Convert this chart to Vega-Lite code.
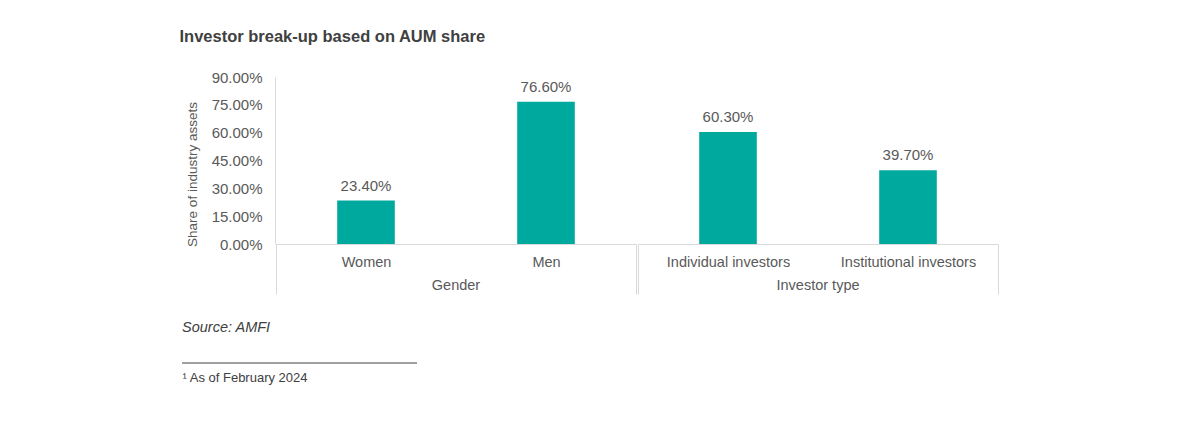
{
  "$schema": "https://vega.github.io/schema/vega-lite/v6.json",
  "background": "white",
  "padding": {"left": 179, "top": 28, "right": 5, "bottom": 5},
  "config": {"font": "Liberation Sans", "view": {"stroke": null}},
  "title": {"text": "Investor break-up based on AUM share", "anchor": "start", "frame": "bounds", "dx": -2, "fontSize": 16.5, "fontWeight": "bold", "color": "#404040", "offset": 25},
  "vconcat": [
    {
      "data": {"values": [
        {"group": "Gender", "category": "Women", "share": 0.234},
        {"group": "Gender", "category": "Men", "share": 0.766},
        {"group": "Investor type", "category": "Individual investors", "share": 0.603},
        {"group": "Investor type", "category": "Institutional investors", "share": 0.397}
      ]},
      "facet": {"column": {"field": "group", "type": "nominal", "sort": ["Gender", "Investor type"],
        "header": {"title": null, "labelOrient": "bottom", "labelFontSize": 14.5, "labelColor": "#595959", "labelPadding": -16}}},
      "spacing": 0,
      "resolve": {"scale": {"x": "independent"}},
      "spec": {
        "width": 360,
        "height": 167,
        "encoding": {
          "x": {"field": "category", "type": "nominal", "sort": null,
            "scale": {"paddingInner": 0, "paddingOuter": 0},
            "axis": {"title": null, "labelAngle": 0, "labelFontSize": 14.5, "labelColor": "#595959",
              "domainColor": "#d9d9d9", "tickColor": "#d9d9d9", "tickSize": 50, "tickBand": "extent",
              "labelPadding": -39,
              "tickOpacity": {"condition": {"test": "(datum.value === 'Women' || datum.value === 'Individual investors') && !datum.extra", "value": 0}, "value": 1}}},
          "y": {"field": "share", "type": "quantitative", "scale": {"domain": [0, 0.9]},
            "axis": {"title": "Share of industry assets", "values": [0, 0.15, 0.3, 0.45, 0.6, 0.75, 0.9], "format": ".2%",
              "grid": false, "ticks": false, "domainColor": "#d9d9d9", "labelFontSize": 15, "labelColor": "#595959",
              "labelPadding": 13, "titleFontSize": 13.5, "titleFontWeight": "normal", "titleColor": "#595959", "titlePadding": 12, "titleY": 97}}
        },
        "layer": [
          {"mark": {"type": "bar", "color": "#00A99D", "width": {"band": 0.32}}},
          {"mark": {"type": "text", "baseline": "bottom", "dy": -7, "fontSize": 15, "color": "#595959"},
            "encoding": {"text": {"field": "share", "type": "quantitative", "format": ".2%"}}}
        ]
      }
    },
    {
      "data": {"values": [{"note": "footnote"}]},
      "width": 141,
      "height": 1,
      "title": {"text": "Source: AMFI", "anchor": "start", "frame": "group", "dx": -94, "fontStyle": "italic", "fontWeight": "normal", "fontSize": 14.5, "color": "#404040", "offset": 27},
      "mark": {"type": "rule", "color": "#404040", "strokeWidth": 1},
      "encoding": {
        "x": {"datum": 0, "type": "quantitative", "scale": {"domain": [0, 1], "range": [-94, 141]},
          "axis": {"title": "¹ As of February 2024", "labels": false, "ticks": false, "domain": false, "grid": false,
            "titleAnchor": "start", "titleX": -94, "titleFontSize": 13, "titleFontWeight": "normal", "titleColor": "#404040", "titlePadding": 8}},
        "x2": {"datum": 1},
        "y": {"datum": 0, "type": "quantitative", "scale": {"domain": [0, 1]}, "axis": null}
      }
    }
  ],
  "spacing": 24
}
